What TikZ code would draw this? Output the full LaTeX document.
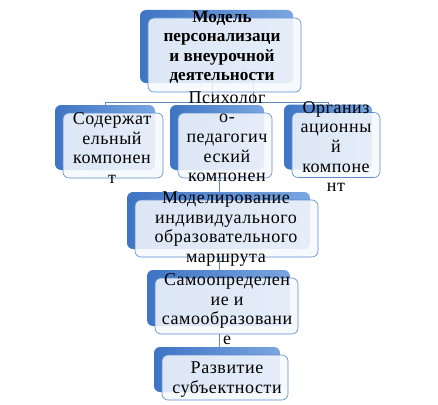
\documentclass[tikz,border=0pt]{standalone}
\usepackage{fontspec}
\setmainfont{Liberation Serif}
\usetikzlibrary{calc}
\definecolor{backdark}{RGB}{62,116,196}
\definecolor{backlight}{RGB}{122,166,224}
\definecolor{frontfill}{RGB}{246,249,253}
\definecolor{frontline}{RGB}{92,140,205}
\definecolor{connline}{RGB}{98,138,196}
\tikzset{
  backbox/.style={rectangle, rounded corners=6pt, draw=none, left color=backdark, right color=backlight, inner sep=0pt},
  frontbox/.style={rectangle, rounded corners=6pt, draw=frontline, line width=0.6pt, fill=frontfill, fill opacity=0.86, inner sep=0pt},
  boxtext/.style={align=center, inner sep=0pt, font=\fontsize{18}{19.6}\selectfont\addfontfeature{LetterSpace=3}},
  titletext/.style={align=center, inner sep=0pt, font=\fontsize{17.2}{19.5}\selectfont\bfseries},
  conn/.style={draw=connline, line width=0.7pt}
}
\begin{document}
\begin{tikzpicture}[x=1pt,y=-1pt]
\useasboundingbox (0,0) rectangle (438,404);
% coordinates for connector lanes
\coordinate (busy) at (0,102.5);
\coordinate (lanea) at (212,0);
\coordinate (laneb) at (253,0);
\coordinate (chain) at (219,0);
% back boxes
\node[backbox, minimum width=153pt, minimum height=73pt] (bT) at (216.5,46.5) {};
\node[backbox, minimum width=100pt, minimum height=65pt] (bL) at (105,137.5) {};
\node[backbox, minimum width=94pt, minimum height=65pt] (bC) at (217,137.5) {};
\node[backbox, minimum width=88pt, minimum height=65pt] (bR) at (328,137) {};
% connectors of the top level
\draw[conn] (bT.south -| lanea) -- (lanea |- busy);
\draw[conn] (bT.south -| laneb) -- (laneb |- busy);
\draw[conn] (bL.north) -- (bL.north |- busy) -- (bR.north |- busy) -- (bR.north);
% front boxes of the top level
\node[frontbox, minimum width=153pt, minimum height=74pt] (fT) at (224.5,55) {};
\node[titletext] (tT) at (222,47.5) {Модель\\персонализаци\\и внеурочной\\деятельности};
\node[frontbox, minimum width=100pt, minimum height=65pt] (fL) at (113,145.5) {};
\node[frontbox, minimum width=94pt, minimum height=65pt] (fC) at (225,145.5) {};
\node[frontbox, minimum width=88pt, minimum height=65pt] (fR) at (336,145) {};
\node[boxtext] (tL) at (112,148) {Содержат\\ельный\\компонен\\т};
\node[boxtext] (tC) at (227,146.5) {Психолог\\о-\\педагогич\\еский\\компонен\\т};
\node[boxtext] (tR) at (336,146.5) {Организ\\ационны\\й\\компоне\\нт};
% chain
\node[backbox, minimum width=183pt, minimum height=57pt] (bM) at (218.5,220.5) {};
\draw[conn] (fC.south -| chain) -- (bM.north -| chain);
\node[frontbox, minimum width=183pt, minimum height=57pt] (fM) at (226.5,228.5) {};
\node[boxtext] (tM) at (226,229) {Моделирование\\индивидуального\\образовательного\\маршрута};
\node[backbox, minimum width=143pt, minimum height=56pt] (bS) at (218.5,298) {};
\draw[conn] (fM.south -| chain) -- (bS.north -| chain);
\node[frontbox, minimum width=143pt, minimum height=56pt] (fS) at (226.5,306) {};
\node[boxtext] (tS) at (227,309) {Самоопределен\\ие и\\самообразовани\\е};
\node[backbox, minimum width=126pt, minimum height=45pt] (bD) at (217,369.5) {};
\draw[conn] (fS.south -| chain) -- (bD.north -| chain);
\node[frontbox, minimum width=126pt, minimum height=45pt] (fD) at (225,377.5) {};
\node[boxtext] (tD) at (227,379.5) {Развитие\\субъектности};
\end{tikzpicture}
\end{document}
